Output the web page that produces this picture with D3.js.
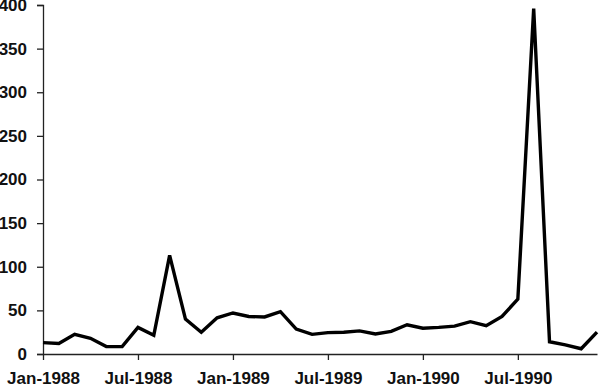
<!DOCTYPE html>
<html>
<head>
<meta charset="utf-8">
<script src="https://cdn.jsdelivr.net/npm/d3@7"></script>
<style>
  body { margin: 0; background: #fff; }
  svg text { font-family: "Liberation Sans", Arial, sans-serif; font-weight: bold; font-size: 17px; fill: #111; }
</style>
</head>
<body>
<svg id="chart" width="600" height="386"></svg>
<script>
// monthly values, Jan-1988 .. Dec-1990
var months = ['Jan-1988', 'Feb-1988', 'Mar-1988', 'Apr-1988', 'May-1988', 'Jun-1988',
  'Jul-1988', 'Aug-1988', 'Sep-1988', 'Oct-1988', 'Nov-1988', 'Dec-1988',
  'Jan-1989', 'Feb-1989', 'Mar-1989', 'Apr-1989', 'May-1989', 'Jun-1989',
  'Jul-1989', 'Aug-1989', 'Sep-1989', 'Oct-1989', 'Nov-1989', 'Dec-1989',
  'Jan-1990', 'Feb-1990', 'Mar-1990', 'Apr-1990', 'May-1990', 'Jun-1990',
  'Jul-1990', 'Aug-1990', 'Sep-1990', 'Oct-1990', 'Nov-1990', 'Dec-1990']
var values = [13, 12, 22.5, 18, 8.5, 8.5,
  30.5, 21.5, 113, 40, 25, 41.5,
  47, 43, 42.5, 48.5, 28.5, 22.5,
  24.5, 25, 26.5, 23, 26, 33.5,
  29.5, 30.5, 32, 37, 32.5, 43,
  63, 396, 14, 10.5, 6, 25]
var xTickLabels = ['Jan-1988', 'Jul-1988', 'Jan-1989', 'Jul-1989', 'Jan-1990', 'Jul-1990']
var yTicks = [0, 50, 100, 150, 200, 250, 300, 350, 400]

var svg = d3.select('#chart')
var plot = { left: 43, right: 597, top: 5, bottom: 354 }

var x = d3.scaleLinear().domain([0, months.length - 1]).range([plot.left, plot.right])
var y = d3.scaleLinear().domain([0, 400]).range([plot.bottom, plot.top])

// y axis
var yAxis = svg.append('g')
  .attr('transform', 'translate(' + plot.left + ',0)')
  .call(d3.axisLeft(y).tickValues(yTicks).tickSize(6).tickPadding(10))
yAxis.select('.domain').attr('stroke', '#222').attr('stroke-width', 1.3)
yAxis.selectAll('.tick line').attr('stroke', '#222').attr('stroke-width', 1.3)
yAxis.selectAll('text').attr('font-size', null).attr('font-family', null).attr('fill', null)

// x axis
var tickIdx = xTickLabels.map(function (d) { return months.indexOf(d) })
var xAxis = svg.append('g')
  .attr('transform', 'translate(0,' + plot.bottom + ')')
  .call(d3.axisBottom(x).tickValues(tickIdx).tickSize(6).tickSizeOuter(0).tickPadding(12)
    .tickFormat(function (d) { return months[d] }))
xAxis.select('.domain').attr('stroke', '#222').attr('stroke-width', 1.3)
xAxis.selectAll('.tick line').attr('stroke', '#222').attr('stroke-width', 1.3)
xAxis.selectAll('text').attr('font-size', null).attr('font-family', null).attr('fill', null)

// series line
var line = d3.line()
  .x(function (d, i) { return x(i) })
  .y(function (d) { return y(d) })

svg.append('path')
  .datum(values)
  .attr('d', line)
  .attr('fill', 'none')
  .attr('stroke', '#000')
  .attr('stroke-width', 3.4)
  .attr('stroke-linejoin', 'miter')
</script>
</body>
</html>
